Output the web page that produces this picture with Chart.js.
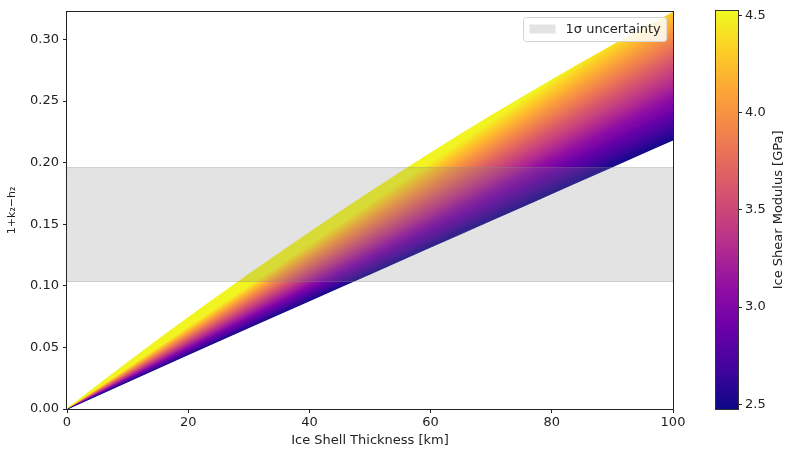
<!DOCTYPE html>
<html>
<head>
<meta charset="utf-8">
<script src="https://cdn.jsdelivr.net/npm/chart.js@4.4.1/dist/chart.umd.min.js"></script>
<style>
  html, body { margin: 0; padding: 0; background: #fff; }
  #wrap { position: relative; width: 788px; height: 451px; }
  #main { position: absolute; left: 0; top: 0; width: 700px; height: 451px; }
  #cbar { position: absolute; left: 700px; top: 0; width: 88px; height: 451px; }
</style>
</head>
<body>
<div id="wrap">
  <div id="main"><canvas id="chart"></canvas></div>
  <div id="cbar"><canvas id="colorbar"></canvas></div>
</div>
<script>
// ice shell thickness [km]
const thickness = [0, 10, 20, 30, 40, 50, 60, 70, 80, 90, 100];
// shear modulus [GPa] of each curve
const modulus = [2.5, 3.0, 3.5, 4.0, 4.5];
// 1 + k2 - h2, one list per modulus
const mu25 = [0, 0.0222, 0.0443, 0.0662, 0.0880, 0.1097, 0.1315, 0.1532, 0.1750, 0.1968, 0.2185];
const mu30 = [0, 0.0261, 0.0517, 0.0770, 0.1018, 0.1263, 0.1505, 0.1744, 0.1981, 0.2214, 0.2444];
const mu35 = [0, 0.0299, 0.0592, 0.0877, 0.1156, 0.1429, 0.1696, 0.1956, 0.2211, 0.2460, 0.2703];
const mu40 = [0, 0.0338, 0.0666, 0.0985, 0.1294, 0.1594, 0.1886, 0.2168, 0.2442, 0.2706, 0.2961];
const mu45 = [0, 0.0376, 0.0740, 0.1092, 0.1432, 0.1760, 0.2076, 0.2380, 0.2672, 0.2952, 0.3220];
const curves = [mu25, mu30, mu35, mu40, mu45];

const bandLow = 0.1035;
const bandHigh = 0.196;
const bandLabel = '1\u03c3 uncertainty';

const xTicks = [0, 20, 40, 60, 80, 100];
const yTicks = [0, 0.05, 0.10, 0.15, 0.20, 0.25, 0.30];
const yMax = 0.3225;
const cbarTicks = [2.5, 3.0, 3.5, 4.0, 4.5];
const cbarRange = [2.475, 4.525];

const plasma = ['#0d0887', '#41049d', '#6a00a8', '#8f0da4', '#b12a90', '#cc4778',
                '#e16462', '#f2844b', '#fca636', '#fcce25', '#f0f921'];

const INK = '#222';
const FONT = 'DejaVu Sans';
Chart.defaults.font.family = FONT;

function hexRgb(h) {
    return [1, 3, 5].map((i) => parseInt(h.slice(i, i + 2), 16));
}

function plasmaAt(t) {
    t = Math.min(1, Math.max(0, t));
    const s = t * (plasma.length - 1);
    const i = Math.min(plasma.length - 2, Math.floor(s));
    const f = s - i;
    const a = hexRgb(plasma[i]);
    const b = hexRgb(plasma[i + 1]);
    const c = a.map((v, k) => Math.round(v + (b[k] - v) * f));
    return 'rgb(' + c.join(',') + ')';
}

function norm(m) {
    return (m - cbarRange[0]) / (cbarRange[1] - cbarRange[0]);
}

// conic gradient around the origin so colour follows the fan of curves
let fanCache = null;
function fanGradient(chart) {
    if (!chart.chartArea) return plasmaAt(0.5);
    const xs = chart.scales.x;
    const ys = chart.scales.y;
    const ox = xs.getPixelForValue(0);
    const oy = ys.getPixelForValue(0);
    const key = ox + ',' + oy + ',' + chart.chartArea.right;
    if (fanCache && fanCache.key === key) return fanCache.g;
    const k = thickness.indexOf(80);
    const ang = curves.map((c) =>
        Math.atan2(ys.getPixelForValue(c[k]) - oy, xs.getPixelForValue(thickness[k]) - ox));
    const g = chart.ctx.createConicGradient(-Math.PI / 2, ox, oy);
    const off = (a) => (a + Math.PI / 2) / (2 * Math.PI);
    for (let i = curves.length - 1; i > 0; i--) {
        for (let s = 0; s < 10; s++) {
            const f = s / 10;
            const a = ang[i] + (ang[i - 1] - ang[i]) * f;
            const m = modulus[i] + (modulus[i - 1] - modulus[i]) * f;
            g.addColorStop(off(a), plasmaAt(norm(m)));
        }
    }
    g.addColorStop(off(ang[0]), plasmaAt(norm(modulus[0])));
    fanCache = { key: key, g: g };
    return g;
}

const curveSets = curves.map((c, i) => ({
    label: modulus[i] + ' GPa',
    data: thickness.map((x, j) => ({ x: x, y: c[j] })),
    borderColor: (ctx) => fanGradient(ctx.chart),
    borderWidth: 1.2,
    backgroundColor: (ctx) => fanGradient(ctx.chart),
    fill: i === 0 ? false : '-1',
    cubicInterpolationMode: 'monotone',
}));

const datasets = [
    {
        label: bandLabel,
        data: [{ x: 0, y: bandHigh }, { x: 100, y: bandHigh }],
        borderColor: 'rgba(140,140,140,0.35)',
        borderWidth: 1,
        backgroundColor: 'rgba(128,128,128,0.22)',
        fill: { value: bandLow },
    },
    {
        label: 'band low',
        data: [{ x: 0, y: bandLow }, { x: 100, y: bandLow }],
        borderColor: 'rgba(140,140,140,0.35)',
        borderWidth: 1,
        fill: false,
    },
    ...curveSets,
];

const frame = {
    id: 'frame',
    afterDatasetsDraw(chart) {
        const { ctx, chartArea: a } = chart;
        ctx.save();
        ctx.strokeStyle = INK;
        ctx.lineWidth = 1;
        ctx.strokeRect(Math.round(a.left) - 0.5, Math.round(a.top) - 0.5,
            Math.round(a.right - a.left) + 1, Math.round(a.bottom - a.top) + 1);
        ctx.restore();
    },
};

const legendBox = {
    id: 'legendBox',
    afterDraw(chart) {
        const { ctx, chartArea: a } = chart;
        const ds = chart.data.datasets[0];
        ctx.save();
        ctx.font = '13px "' + FONT + '"';
        const tw = ctx.measureText(ds.label).width;
        const pad = 6, sw = 26, gap = 10, h = 24;
        const w = pad + sw + gap + tw + pad;
        const x0 = Math.round(a.right - 7 - w) + 0.5;
        const y0 = Math.round(a.top + 5) + 0.5;
        ctx.beginPath();
        ctx.roundRect(x0, y0, w, h, 3);
        ctx.fillStyle = 'rgba(255,255,255,0.85)';
        ctx.fill();
        ctx.strokeStyle = '#d4d4d4';
        ctx.lineWidth = 1;
        ctx.stroke();
        ctx.fillStyle = '#fff';
        ctx.fillRect(x0 + pad, y0 + h / 2 - 5, sw, 9);
        ctx.fillStyle = ds.backgroundColor;
        ctx.fillRect(x0 + pad, y0 + h / 2 - 5, sw, 9);
        ctx.fillStyle = INK;
        ctx.textBaseline = 'middle';
        ctx.fillText(ds.label, x0 + pad + sw + gap, y0 + h / 2);
        ctx.restore();
    },
};

const tickFont = { family: FONT, size: 13 };

new Chart(document.getElementById('chart'), {
    type: 'line',
    data: { datasets: datasets },
    options: {
        responsive: true,
        maintainAspectRatio: false,
        animation: false,
        layout: { padding: { left: 0, top: 9, right: 27, bottom: 0 } },
        elements: { point: { radius: 0 } },
        plugins: {
            legend: { display: false },
            tooltip: { enabled: false },
            filler: { drawTime: 'beforeDatasetDraw' },
        },
        scales: {
            x: {
                type: 'linear',
                min: 0,
                max: 100,
                afterBuildTicks: (ax) => { ax.ticks = xTicks.map((v) => ({ value: v })); },
                afterFit: (ax) => { ax.height = 42; },
                grid: { drawOnChartArea: false, drawTicks: true, tickLength: 4, tickColor: INK },
                border: { display: false },
                ticks: { color: INK, font: tickFont, padding: 2, maxRotation: 0 },
                title: {
                    display: true,
                    text: 'Ice Shell Thickness [km]',
                    color: INK,
                    font: tickFont,
                    padding: { top: 0, bottom: 3 },
                },
            },
            y: {
                type: 'linear',
                min: 0,
                max: yMax,
                afterBuildTicks: (ax) => { ax.ticks = yTicks.map((v) => ({ value: v })); },
                afterFit: (ax) => { ax.width = 67; },
                grid: { drawOnChartArea: false, drawTicks: true, tickLength: 4, tickColor: INK },
                border: { display: false },
                ticks: {
                    color: INK,
                    font: tickFont,
                    padding: 4,
                    callback: (v) => v.toFixed(2),
                },
                title: {
                    display: true,
                    text: '1+k\u2082\u2212h\u2082',
                    color: INK,
                    font: { family: FONT, size: 11 },
                    padding: { top: 6, bottom: 0 },
                },
            },
        },
    },
    plugins: [frame, legendBox],
});

// colorbar
function cbarGradient(chart) {
    if (!chart.chartArea) return plasmaAt(0.5);
    const ys = chart.scales.y;
    const g = chart.ctx.createLinearGradient(0, ys.getPixelForValue(cbarRange[0]), 0, ys.getPixelForValue(cbarRange[1]));
    plasma.forEach((c, i) => g.addColorStop(i / (plasma.length - 1), c));
    return g;
}

const cbarDecor = {
    id: 'cbarDecor',
    afterDraw(chart) {
        const { ctx, chartArea: a } = chart;
        ctx.save();
        ctx.strokeStyle = '#333';
        ctx.lineWidth = 1;
        ctx.strokeRect(Math.round(a.left) - 0.5, Math.round(a.top) - 0.5,
            Math.round(a.right - a.left) + 1, Math.round(a.bottom - a.top) + 1);
        ctx.translate(79, (a.top + a.bottom) / 2);
        ctx.rotate(-Math.PI / 2);
        ctx.font = '13px "' + FONT + '"';
        ctx.fillStyle = INK;
        ctx.textAlign = 'center';
        ctx.textBaseline = 'middle';
        ctx.fillText('Ice Shear Modulus [GPa]', 0, 0);
        ctx.restore();
    },
};

new Chart(document.getElementById('colorbar'), {
    type: 'bar',
    data: {
        labels: ['modulus'],
        datasets: [{
            data: [cbarRange],
            backgroundColor: (ctx) => cbarGradient(ctx.chart),
            borderWidth: 0,
            barPercentage: 1,
            categoryPercentage: 1,
        }],
    },
    options: {
        responsive: true,
        maintainAspectRatio: false,
        animation: false,
        layout: { padding: { left: 16, top: 9, right: 0, bottom: 42 } },
        plugins: { legend: { display: false }, tooltip: { enabled: false } },
        scales: {
            x: { display: false },
            y: {
                position: 'right',
                min: cbarRange[0],
                max: cbarRange[1],
                afterBuildTicks: (ax) => { ax.ticks = cbarTicks.map((v) => ({ value: v })); },
                afterFit: (ax) => { ax.width = 50; },
                grid: { drawOnChartArea: false, drawTicks: true, tickLength: 4, tickColor: INK },
                border: { display: false },
                ticks: { color: INK, font: tickFont, padding: 3, callback: (v) => v.toFixed(1) },
            },
        },
    },
    plugins: [cbarDecor],
});
</script>
</body>
</html>
